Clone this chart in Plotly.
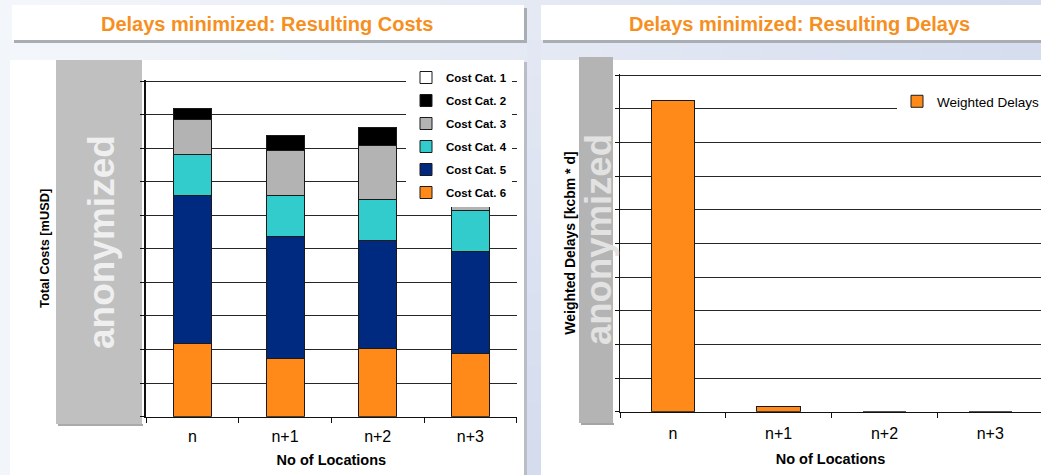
import plotly.graph_objects as go

W, H = 1041, 475

# ---------------- data ----------------
categories = ["n", "n+1", "n+2", "n+3"]
cost_names = ["Cost Cat. 1", "Cost Cat. 2", "Cost Cat. 3", "Cost Cat. 4", "Cost Cat. 5", "Cost Cat. 6"]
cost_cat1 = [0.0, 0.0, 0.0, 0.0]
cost_cat2 = [0.33, 0.45, 0.55, 0.50]
cost_cat3 = [1.04, 1.34, 1.59, 1.35]
cost_cat4 = [1.22, 1.22, 1.24, 1.22]
cost_cat5 = [4.43, 3.64, 3.20, 3.04]
cost_cat6 = [2.17, 1.74, 2.04, 1.87]
delay_name = "Weighted Delays"
weighted_delays = [9.25, 0.15, 0.0, 0.0]

left_title = "Delays minimized: Resulting Costs"
right_title = "Delays minimized: Resulting Delays"
x_title = "No of Locations"
y_title_left = "Total Costs [mUSD]"
y_title_right = "Weighted Delays [kcbm * d]"
mask_text = "anonymized"

# ---------------- styles ----------------
FONT = "Liberation Sans, Arial, sans-serif"
cost_colors = {
    "Cost Cat. 1": "#FFFFFF",
    "Cost Cat. 2": "#000000",
    "Cost Cat. 3": "#B3B3B3",
    "Cost Cat. 4": "#33CCCC",
    "Cost Cat. 5": "#002A80",
    "Cost Cat. 6": "#FF8A1A",
}
ORANGE = "#FF8A1A"
TITLE_ORANGE = "#F78F1E"
GRID = "#262626"


def px(x):
    return x / W


def py(y):
    return 1 - y / H


fig = go.Figure()

cost_series = dict(zip(cost_names, [cost_cat1, cost_cat2, cost_cat3, cost_cat4, cost_cat5, cost_cat6]))
# stack from Cat. 6 (bottom) to Cat. 1 (top); legend lists Cat. 1 first
for name in cost_names[::-1]:
    fig.add_trace(go.Bar(
        x=categories, y=cost_series[name], name=name,
        marker=dict(color=cost_colors[name], line=dict(color="#1a1a1a", width=1)),
        width=0.41, xaxis="x", yaxis="y", legend="legend", legendgroup=name,
        legendrank=cost_names.index(name) + 1,
    ))

fig.add_trace(go.Bar(
    x=categories, y=weighted_delays, name=delay_name,
    marker=dict(color=ORANGE, line=dict(color="#1a1a1a", width=1)),
    width=0.41, xaxis="x2", yaxis="y2", legend="legend2",
))

# ---------------- background shapes ----------------
shapes = []


def rect(x0, y0, x1, y1, color):
    shapes.append(dict(type="rect", xref="paper", yref="paper",
                       x0=px(x0), x1=px(x1), y0=py(y1), y1=py(y0),
                       fillcolor=color, line=dict(width=0), layer="below"))


def lerp(c0, c1, t):
    a = [int(c0[i:i + 2], 16) for i in (1, 3, 5)]
    b = [int(c1[i:i + 2], 16) for i in (1, 3, 5)]
    return "#%02x%02x%02x" % tuple(round(a[k] + (b[k] - a[k]) * t) for k in range(3))


n = 26
for i in range(n):
    x0 = W * i / n
    x1 = W * (i + 1) / n + 1
    rect(x0, 0, x1, H, lerp("#f4f6fa", "#d5ddee", (i + 0.5) / n))
# gap between panels: vertical gradient
m = 12
for j in range(m):
    y0 = 40 + (H - 40) * j / m
    y1 = 40 + (H - 40) * (j + 1) / m + 1
    rect(527, y0, 541, y1, lerp("#e3e8f3", "#d3dbee", (j + 0.5) / m))
rect(0, 40, 10, H, "#f2f5f9")

# panels
rect(10, 60, 524, H, "#FFFFFF")
rect(524, 62, 527, H, "#b9bdc5")
rect(541, 60, W, H, "#FFFFFF")
# title boxes
rect(12, 5, 524, 40, "#FFFFFF")
rect(14, 40, 527, 43, "#a9adb4")
rect(524, 8, 527, 43, "#a9adb4")
rect(541, 5, W, 40, "#FFFFFF")
rect(543, 40, W, 43, "#a9adb4")
# anonymizing boxes
rect(56, 60, 142, 424, "#C0C0C0")
rect(58, 424, 143, 426, "#aaaaaa")
rect(579, 57, 613, 423, "#B4B4B4")
rect(581, 423, 614, 425, "#a5a5a5")

annotations = [
    dict(text="<b>%s</b>" % left_title, x=px(266.7), y=py(23.5), xref="paper", yref="paper",
         showarrow=False, font=dict(family=FONT, size=20, color=TITLE_ORANGE), xanchor="center", yanchor="middle"),
    dict(text="<b>%s</b>" % right_title, x=px(799.3), y=py(23.5), xref="paper", yref="paper",
         showarrow=False, font=dict(family=FONT, size=20, color=TITLE_ORANGE), xanchor="center", yanchor="middle"),
    dict(text="<b>%s</b>" % mask_text, x=px(101), y=py(242), xref="paper", yref="paper",
         showarrow=False, textangle=-90, font=dict(family=FONT, size=37, color="#EFEFEF"),
         xanchor="center", yanchor="middle"),
    dict(text="<b>%s</b>" % mask_text, x=px(598), y=py(240), xref="paper", yref="paper",
         showarrow=False, textangle=-90, font=dict(family=FONT, size=36.5, color="#E2E2E2"),
         xanchor="center", yanchor="middle"),
]

axis_common = dict(showline=True, linecolor="#111111", linewidth=1, ticks="outside",
                   tickcolor="#111111", mirror=False, zeroline=False)

# a hair of headroom so the top gridline (value 10) is drawn
top_pad = 0.03

fig.update_layout(
    width=W, height=H, margin=dict(l=0, r=0, t=0, b=0, autoexpand=False),
    paper_bgcolor="#e4e9f3", plot_bgcolor="#FFFFFF",
    barmode="stack", showlegend=True,
    font=dict(family=FONT, color="#000000"),
    shapes=shapes, annotations=annotations,
    xaxis=dict(domain=[px(146), px(516.7)], anchor="y", type="category", range=[-0.5, 3.5],
               tickson="boundaries", ticklen=5, showgrid=False,
               tickfont=dict(family=FONT, size=16), ticklabelstandoff=5,
               title=dict(text="<b>%s</b>" % x_title, font=dict(family=FONT, size=14.5), standoff=10),
               **axis_common),
    yaxis=dict(domain=[py(416.7), py(80)], anchor="x", range=[0, 10 + top_pad], dtick=1, ticklen=4,
               showticklabels=False, showgrid=True, gridcolor=GRID, gridwidth=1,
               title=dict(text="<b>%s</b>" % y_title_left, font=dict(family=FONT, size=12.8), standoff=88),
               **{**axis_common, "linewidth": 1.5}),
    xaxis2=dict(domain=[px(620), 1.0], anchor="y2", type="category", range=[-0.5, 3.48],
                tickson="boundaries", ticklen=5, showgrid=False,
                tickfont=dict(family=FONT, size=16), ticklabelstandoff=7,
                title=dict(text="<b>%s</b>" % x_title, font=dict(family=FONT, size=14.5), standoff=12),
                **axis_common),
    yaxis2=dict(domain=[py(411.7), py(74.3)], anchor="x2", range=[0, 10 + top_pad], dtick=1, ticklen=4,
                showticklabels=False, showgrid=True, gridcolor=GRID, gridwidth=1,
                title=dict(text="<b>%s</b>" % y_title_right, font=dict(family=FONT, size=14), standoff=36),
                **axis_common),
    legend=dict(x=px(406), y=py(63), xanchor="left", yanchor="top", bgcolor="#FFFFFF",
                borderwidth=0, traceorder="grouped", tracegroupgap=4,
                font=dict(family=FONT, size=11.5, color="#000000", weight="bold")),
    legend2=dict(x=px(897), y=py(86), xanchor="left", yanchor="top", bgcolor="#FFFFFF",
                 borderwidth=0, font=dict(family=FONT, size=13.5, color="#000000")),
)

fig.write_html("out.html", config={"displayModeBar": False},
               post_script="document.body.style.margin='0';document.body.style.overflow='hidden';")
